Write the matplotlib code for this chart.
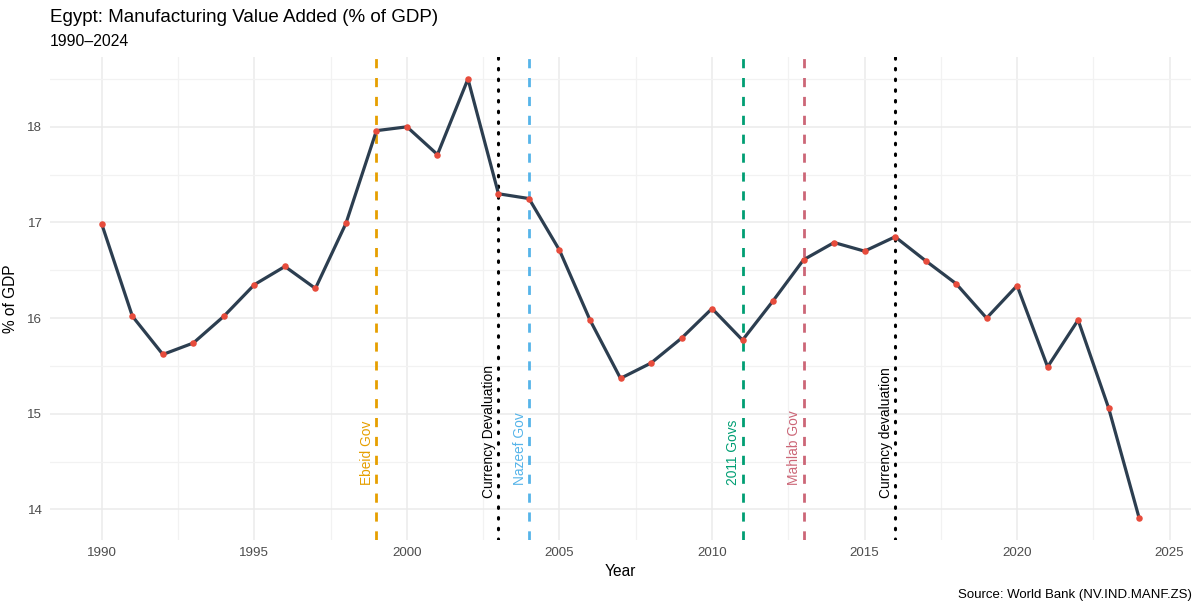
import matplotlib
matplotlib.use("Agg")
import matplotlib.pyplot as plt
from matplotlib.ticker import MultipleLocator

plt.rcParams['font.family'] = ['Liberation Sans', 'DejaVu Sans']

# data
years = list(range(1990, 2025))
mva = [16.98, 16.02, 15.62, 15.74, 16.02, 16.35, 16.54, 16.31, 16.99, 17.96,
       18.00, 17.71, 18.50, 17.30, 17.25, 16.71, 15.98, 15.37, 15.53, 15.79,
       16.10, 15.77, 16.18, 16.61, 16.79, 16.70, 16.85, 16.60, 16.36, 16.00,
       16.34, 15.49, 15.98, 15.06, 13.91]

event_years = [1999, 2003, 2004, 2011, 2013, 2016]
event_labels = ["Ebeid Gov", "Currency Devaluation", "Nazeef Gov",
                "2011 Govs", "Mahlab Gov", "Currency devaluation"]
event_colors = ["#E69F00", "#000000", "#56B4E9", "#009E73", "#CC6677", "#000000"]
event_styles = ["dashed", "dotted", "dashed", "dashed", "dashed", "dotted"]

fig = plt.figure(figsize=(12, 6.09), dpi=100)
ax = fig.add_axes([50/1200, 1-540/609, 1141/1200, 483/609])

# grid
ax.xaxis.set_major_locator(MultipleLocator(5))
ax.xaxis.set_minor_locator(MultipleLocator(2.5))
ax.yaxis.set_major_locator(MultipleLocator(1))
ax.yaxis.set_minor_locator(MultipleLocator(0.5))
ax.grid(which='major', color='#EBEBEB', linewidth=1.1)
ax.grid(which='minor', color='#F2F2F2', linewidth=0.9)
ax.set_axisbelow(True)
for s in ax.spines.values():
    s.set_visible(False)
ax.tick_params(which='both', length=0)
ax.tick_params(axis='both', labelsize=9.6, labelcolor='#4D4D4D')
ax.tick_params(axis='y', pad=5.5)
ax.tick_params(axis='x', pad=5)

ax.set_xlim(1988.3, 2025.7)
ax.set_ylim(13.68, 18.73)

# event lines
for yr, lab, col, ls in zip(event_years, event_labels, event_colors, event_styles):
    if ls == "dotted":
        ax.axvline(yr, color=col, linewidth=2.2, linestyle=(0, (0.5, 3)),
                   dash_capstyle='round', zorder=2)
        ybot = 14.12
    else:
        ax.axvline(yr, color=col, linewidth=2.0, linestyle=(0, (3.3, 3.5)), zorder=2)
        ybot = 14.25
    ax.text(yr - 0.3, ybot, lab, rotation=90, color=col, fontsize=9.9,
            ha='center', va='bottom', zorder=3)

ax.plot(years, mva, color='#2C3E50', linewidth=2.3, zorder=4)
ax.scatter(years, mva, color='#E74C3C', s=22, zorder=5, linewidths=0)

ax.set_xlabel("Year", fontsize=11.2, labelpad=4)
ax.set_ylabel("% of GDP", fontsize=11.2, labelpad=7)

fig.text(50/1200, 1-17/609, "Egypt: Manufacturing Value Added (% of GDP)",
         fontsize=13.5, ha='left', va='center')
fig.text(50/1200, 1-42/609, "1990\u20132024", fontsize=11.3, ha='left', va='center')
fig.text(1192/1200, 1-595/609, "Source: World Bank (NV.IND.MANF.ZS)",
         fontsize=9.5, ha='right', va='center')

fig.savefig("out.png", dpi=100)
